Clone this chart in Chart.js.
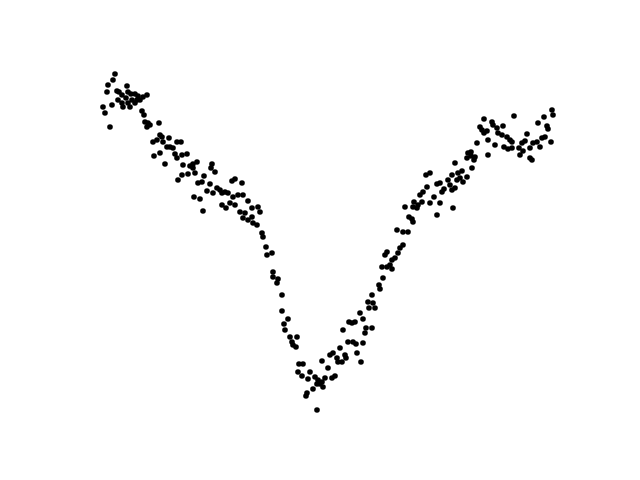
<!DOCTYPE html>
<html>
<head>
<meta charset="utf-8">
<script src="https://cdn.jsdelivr.net/npm/chart.js@4/dist/chart.umd.min.js"></script>
<style>html,body{margin:0;padding:0;background:#fff;}canvas{display:block;}</style>
</head>
<body>
<canvas id="c" width="640" height="480"></canvas>
<script>
const xs = [
1.5,1.3,0.8,0.7,1.7,1.9,2.7,2.8,2.2,2.6,3.1,3.5,3.8,4.3,4.7,3.2,3.7,3.5,3.0,2.2,2.3,0.3,0.5,1.2,1.0,4.2,4.5,4.7,4.8,5.9,
6.0,5.7,5.3,6.2,6.3,6.9,6.7,7.0,7.3,7.7,6.0,5.4,6.5,7.5,7.7,8.2,8.3,8.2,7.8,1.8,2.8,4.0,4.4,5.0,
8.1,8.7,9.0,9.3,9.7,9.3,8.8,9.5,11.2,11.1,11.5,10.4,10.2,9.8,11.0,10.7,11.3,11.7,12.0,12.2,12.5,12.8,13.2,13.5,14.2,13.3,
13.8,14.3,14.8,9.4,10.0,10.3,12.2,12.6,13.0,13.5,14.0,14.5,15.2,15.8,16.0,14.3,14.8,15.2,15.3,15.7,16.2,16.3,16.6,16.7,
17.2,17.3,17.3,17.8,17.7,18.2,18.2,18.4,18.8,18.5,19.0,19.7,19.2,19.3,19.6,19.9,20.3,19.8,20.2,21.0,20.8,21.5,21.8,21.7,22.0,
22.2,22.5,22.8,22.2,23.0,23.3,23.7,24.0,23.8,24.2,24.6,23.2,23.5,22.3,21.3,20.7,20.6,21.7,24.3,24.9,24.8,
32.6,33.0,33.7,34.0,34.4,34.2,32.7,32.3,32.0,32.2,33.0,33.4,34.0,33.7,31.4,31.8,31.3,30.5,31.7,30.9,31.2,31.3,29.7,30.3,30.8,
30.3,30.0,29.8,28.7,28.5,29.5,29.2,29.0,28.7,28.2,29.2,28.3,27.9,28.0,27.2,26.8,27.3,26.9,27.5,26.0,26.3,25.5,25.2,26.6,27.2,
26.5,25.3,25.6,26.3,24.5,25.7,26.1,
45.2,45.3,44.4,43.8,44.7,44.8,41.4,38.4,39.2,39.3,39.7,40.3,38.0,38.2,38.4,38.7,39.8,40.2,40.7,41.0,41.2,42.7,42.5,42.2,43.3,
43.7,44.2,44.5,45.1,44.0,43.0,42.3,41.9,41.2,40.8,40.4,39.5,38.8,37.7,38.8,42.0,43.0,43.2,37.1,36.8,37.1,37.5,37.4,36.7,35.5,
37.2,36.2,35.8,35.2,36.7,36.0,35.7,36.3,34.8,35.0,35.5,35.2,35.3
];
const ys = [
3.56,3.50,3.45,3.38,3.39,3.38,3.44,3.38,3.35,3.32,3.36,3.36,3.34,3.33,3.35,3.30,3.30,3.27,3.23,3.27,3.23,3.23,3.17,3.25,3.03,3.19,3.08,3.03,3.07,3.07,
2.95,2.90,2.88,2.93,2.88,2.92,2.83,2.83,2.82,2.88,2.77,2.74,2.66,2.76,2.72,2.75,2.65,2.55,2.50,3.30,3.27,3.30,3.15,3.05,
2.88,2.76,2.64,2.66,2.68,2.62,2.56,2.57,2.66,2.62,2.58,2.54,2.48,2.47,2.46,2.39,2.37,2.42,2.40,2.37,2.38,2.37,2.49,2.51,2.47,2.33,
2.35,2.35,2.29,2.33,2.31,2.19,2.25,2.22,2.27,2.25,2.18,2.17,2.22,2.23,2.18,2.12,2.10,2.13,2.07,2.05,1.97,1.93,1.83,1.75,
1.77,1.58,1.53,1.51,1.47,1.35,1.19,1.06,1.11,1.00,0.93,0.93,0.88,0.85,0.83,0.66,0.66,0.58,0.54,0.58,0.51,0.53,0.50,0.46,0.46,
0.48,0.52,0.62,0.69,0.75,0.77,0.72,0.82,0.68,0.68,0.72,0.52,0.54,0.43,0.41,0.37,0.34,0.20,1.00,1.08,0.88,
2.55,2.57,2.46,2.47,2.41,2.38,2.43,2.38,2.35,2.28,2.27,2.33,2.27,2.15,2.28,2.25,2.23,2.23,2.22,2.13,2.11,2.08,2.00,1.98,1.98,
1.85,1.82,1.77,1.78,1.75,1.72,1.70,1.65,1.63,1.63,1.61,1.52,1.45,1.41,1.35,1.28,1.27,1.22,1.22,1.17,1.11,1.08,1.07,1.02,1.02,
0.97,0.88,0.86,0.87,0.75,0.77,0.68,
3.20,3.15,3.13,3.07,3.04,3.01,3.14,3.11,3.08,3.05,3.02,3.04,3.03,3.00,2.97,2.99,2.97,2.95,2.93,2.90,2.88,2.96,2.89,2.87,2.87,
2.88,2.92,2.93,2.88,2.83,2.82,2.79,2.82,2.82,2.81,2.83,2.85,2.90,2.87,2.75,2.75,2.72,2.70,2.78,2.77,2.74,2.73,2.70,2.72,2.67,
2.62,2.59,2.57,2.55,2.53,2.52,2.50,2.48,2.50,2.45,2.42,2.40,2.22
];
const points = xs.map((x, i) => ({x: x, y: ys[i]}));
new Chart(document.getElementById('c'), {
  type: 'scatter',
  data: { datasets: [{ data: points, backgroundColor: '#000', borderWidth: 0, pointRadius: 2.8, pointHoverRadius: 2.8 }] },
  options: {
    responsive: false,
    animation: false,
    devicePixelRatio: 1,
    layout: { autoPadding: false, padding: { left: 80, right: 64, top: 58, bottom: 53 } },
    plugins: { legend: { display: false }, tooltip: { enabled: false } },
    scales: {
      x: { type: 'linear', display: false, min: -2.0, max: 47.6 },
      y: { type: 'linear', display: false, min: 0.03, max: 3.72 }
    }
  }
});
</script>
</body>
</html>
